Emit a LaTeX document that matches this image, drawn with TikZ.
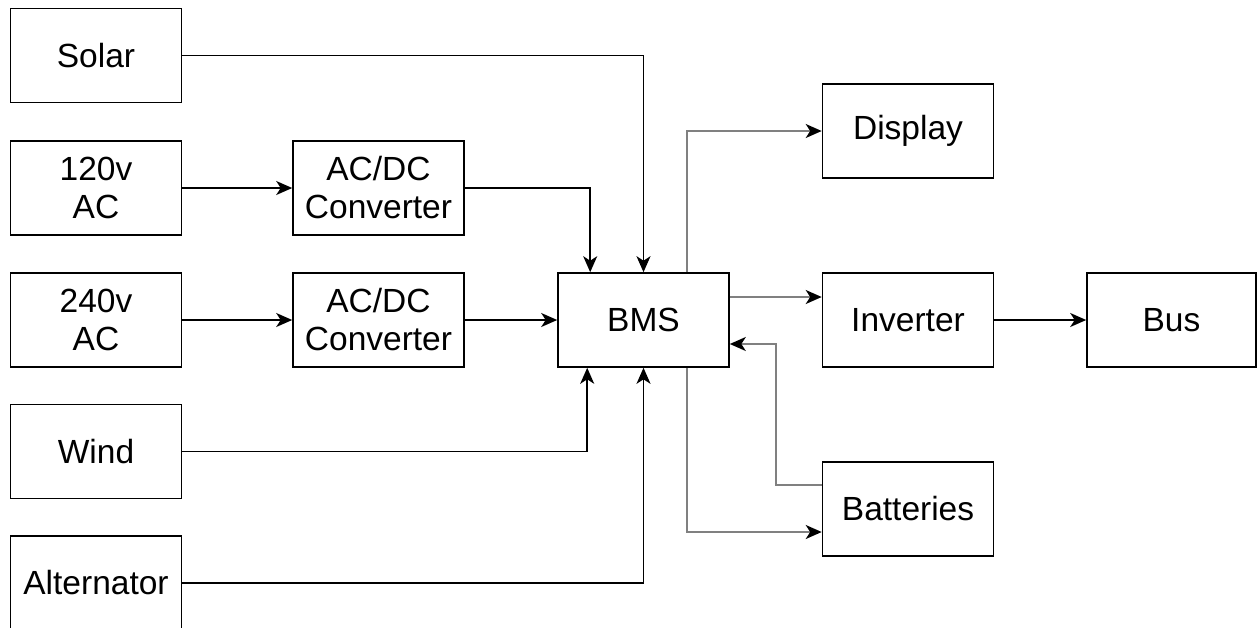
\documentclass[tikz,border=0pt]{standalone}
\usepackage{fontspec}
\setmainfont{Liberation Sans}
\usetikzlibrary{arrows.meta,calc}
\begin{document}
\begin{tikzpicture}[x=1pt,y=-1pt,
  box/.style={draw, line width=1.6pt, minimum width=171pt, minimum height=94pt, inner sep=0pt, align=center, font=\fontsize{33.5}{38}\selectfont},
  conn/.style={line width=1.6pt, -{Stealth[length=16pt,width=14pt,inset=4.5pt]}},
  gconn/.style={line width=2pt, draw=black!50, -{Stealth[length=16pt,width=14pt,inset=4.5pt,black]}}]
\useasboundingbox[fill=white] (0,0) rectangle (1257,627);
\node[box] (solar) at (96,55.5) {Solar};
\node[box] (ac120) at (96,188) {120v\\AC};
\node[box] (ac240) at (96,320) {240v\\AC};
\node[box] (wind) at (96,451.5) {Wind};
\node[box] (alt) at (96,583) {Alternator};
\node[box] (conv1) at (378.5,188) {AC/DC\\Converter};
\node[box] (conv2) at (378.5,320) {AC/DC\\Converter};
\node[box] (bms) at (643.5,320) {BMS};
\node[box] (display) at (908,131) {Display};
\node[box] (inverter) at (908,320) {Inverter};
\node[box, minimum width=169pt] (bus) at (1171.5,320) {Bus};
\node[box] (batteries) at (908,509) {Batteries};

\draw[conn] (solar.east) -| (bms.north);
\draw[conn] (ac120.east) -- (conv1.west);
\draw[conn] (conv1.east) -| ($(bms.north west)+(33,0)$);
\draw[conn] (ac240.east) -- (conv2.west);
\draw[conn] (conv2.east) -- (bms.west);
\draw[conn] (wind.east) -| ($(bms.south west)+(30,0)$);
\draw[conn] (alt.east) -| (bms.south);
\draw[gconn] ($(bms.north east)+(-43,0)$) |- (display.west);
\draw[gconn] ($(bms.east)+(0,-23)$) -- ($(inverter.west)+(0,-23)$);
\draw[gconn] ($(batteries.west)+(0,-24)$) -- ++(-46,0) |- ($(bms.east)+(0,24)$);
\draw[gconn] ($(bms.south east)+(-43,0)$) |- ($(batteries.west)+(0,23)$);
\draw[conn] (inverter.east) -- (bus.west);
\end{tikzpicture}
\end{document}
